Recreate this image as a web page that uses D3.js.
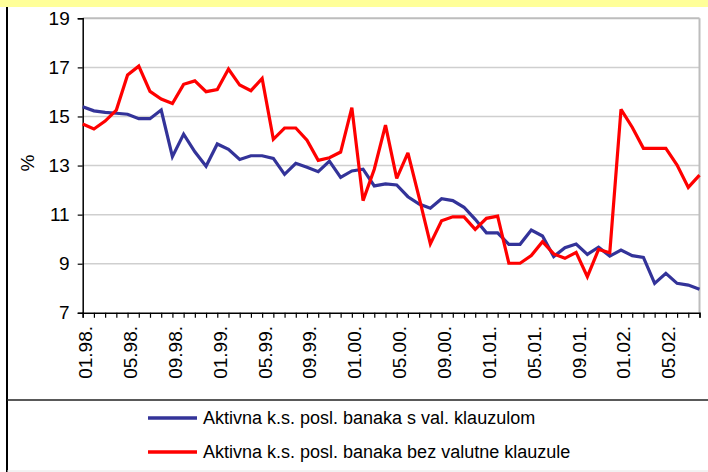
<!DOCTYPE html>
<html><head><meta charset="utf-8">
<script src="https://cdn.jsdelivr.net/npm/d3@7/dist/d3.min.js"></script>
<style>
body{margin:0;background:#fff;}
svg{display:block;font-family:"Liberation Sans",Arial,sans-serif;}
</style>
</head><body>
<svg id="chart" width="708" height="472"></svg>
<script>
const months = [
  "01.98","02.98","03.98","04.98","05.98","06.98","07.98","08.98","09.98","10.98","11.98","12.98",
  "01.99","02.99","03.99","04.99","05.99","06.99","07.99","08.99","09.99","10.99","11.99","12.99",
  "01.00","02.00","03.00","04.00","05.00","06.00","07.00","08.00","09.00","10.00","11.00","12.00",
  "01.01","02.01","03.01","04.01","05.01","06.01","07.01","08.01","09.01","10.01","11.01","12.01",
  "01.02","02.02","03.02","04.02","05.02","06.02","07.02","08.02"
];
const withClause = [
  15.40,15.23,15.17,15.13,15.09,14.91,14.91,15.26,13.36,14.28,13.56,12.97,
  13.88,13.66,13.25,13.40,13.40,13.29,12.64,13.09,12.93,12.75,13.18,12.52,
  12.78,12.85,12.17,12.25,12.21,11.73,11.43,11.26,11.65,11.57,11.30,10.81,
  10.26,10.26,9.79,9.79,10.37,10.13,9.29,9.65,9.80,9.38,9.67,9.31,
  9.56,9.33,9.26,8.20,8.61,8.20,8.13,7.96
];
const withoutClause = [
  14.69,14.49,14.81,15.26,16.69,17.05,16.02,15.71,15.53,16.31,16.45,16.01,
  16.10,16.93,16.28,16.05,16.55,14.07,14.53,14.53,14.03,13.21,13.32,13.55,
  15.36,11.57,12.85,14.65,12.48,13.52,11.69,9.81,10.75,10.91,10.91,10.40,
  10.85,10.94,9.02,9.02,9.33,9.90,9.40,9.22,9.46,8.47,9.58,9.45,
  15.29,14.56,13.70,13.70,13.70,13.02,12.11,12.61
];
const yTicks = [7, 9, 11, 13, 15, 17, 19];
const xLabelMonths = ["01.98","05.98","09.98","01.99","05.99","09.99","01.00","05.00","09.00","01.01","05.01","09.01","01.02","05.02"];
const seriesNames = ["Aktivna k.s. posl. banaka s val. klauzulom", "Aktivna k.s. posl. banaka bez valutne klauzule"];
const seriesColors = ["#333399", "#ff0000"];
const yTitle = "%";

(function () {
const svg = d3.select("#chart");
const W = 708, H = 472;
const pL = 82.7, pR = 699.5, pT = 18.3, pB = 312.8;

// frame
svg.append("rect").attr("x",0).attr("y",0).attr("width",W).attr("height",7).attr("fill","#ffff99");
svg.append("line").attr("x1",7).attr("x2",7).attr("y1",7).attr("y2",H).attr("stroke","#000").attr("stroke-width",2);
svg.append("line").attr("x1",7).attr("x2",W).attr("y1",400).attr("y2",400).attr("stroke","#222").attr("stroke-width",1.5);
svg.append("line").attr("x1",7).attr("x2",W).attr("y1",471).attr("y2",471).attr("stroke","#e4e4e4").attr("stroke-width",1);

const x = d3.scalePoint().domain(months).range([pL, pR]);
const y = d3.scaleLinear().domain([7, 19]).range([pB, pT]);

// gridlines
svg.append("g").selectAll("line").data(yTicks.filter(d => d > 7)).join("line")
  .attr("x1", pL).attr("x2", pR)
  .attr("y1", d => y(d)).attr("y2", d => y(d))
  .attr("stroke", d => d === 19 ? "#bdbdbd" : "#cfcfcf")
  .attr("stroke-width", d => d === 19 ? 2 : 1.5);
svg.append("line").attr("x1", pR).attr("x2", pR).attr("y1", pT).attr("y2", pB)
  .attr("stroke","#bdbdbd").attr("stroke-width",2);

// y axis
const yAxis = svg.append("g").attr("transform", `translate(${pL},0)`)
  .call(d3.axisLeft(y).tickValues(yTicks).tickSize(5).tickPadding(8).tickFormat(d3.format("d")));
yAxis.select(".domain").attr("stroke","#000").attr("stroke-width",1.5);
yAxis.selectAll(".tick line").attr("stroke","#000").attr("stroke-width",1.2);
yAxis.selectAll(".tick text").attr("font-size", 19).attr("fill","#000")
  .attr("font-family","'Liberation Sans',Arial,sans-serif");

// x axis
const xAxis = svg.append("g").attr("transform", `translate(0,${pB})`)
  .call(d3.axisBottom(x).tickSize(5).tickFormat(""));
xAxis.select(".domain").attr("stroke","#000").attr("stroke-width",1.5);
xAxis.selectAll(".tick line").attr("stroke","#000").attr("stroke-width",1.2);

svg.append("g").selectAll("text").data(xLabelMonths).join("text")
  .attr("transform", d => `translate(${x(d)},326) rotate(-90)`)
  .attr("text-anchor","end").attr("dy","0.5em")
  .attr("font-size",19).attr("fill","#000")
  .text(d => d + ".");

// y title
svg.append("text").attr("transform","translate(27,163) rotate(-90)")
  .attr("text-anchor","middle").attr("dy","0.35em").attr("font-size",19).text(yTitle);

// lines
const line = d3.line().x((d, i) => x(months[i])).y(d => y(d));
[withClause, withoutClause].forEach((s, k) => {
  svg.append("path").datum(s).attr("d", line).attr("fill","none")
    .attr("stroke", seriesColors[k]).attr("stroke-width", 3.2)
    .attr("stroke-linejoin","miter").attr("stroke-miterlimit", 3);
});

// legend
const legendY = [418, 452];
seriesNames.forEach((name, k) => {
  svg.append("line").attr("x1",148).attr("x2",197).attr("y1",legendY[k]).attr("y2",legendY[k])
    .attr("stroke", seriesColors[k]).attr("stroke-width",3.5);
  svg.append("text").attr("x",203).attr("y",legendY[k]).attr("dy","0.35em")
    .attr("font-size",18).attr("fill","#000").text(name);
});
})();
</script>
</body></html>
